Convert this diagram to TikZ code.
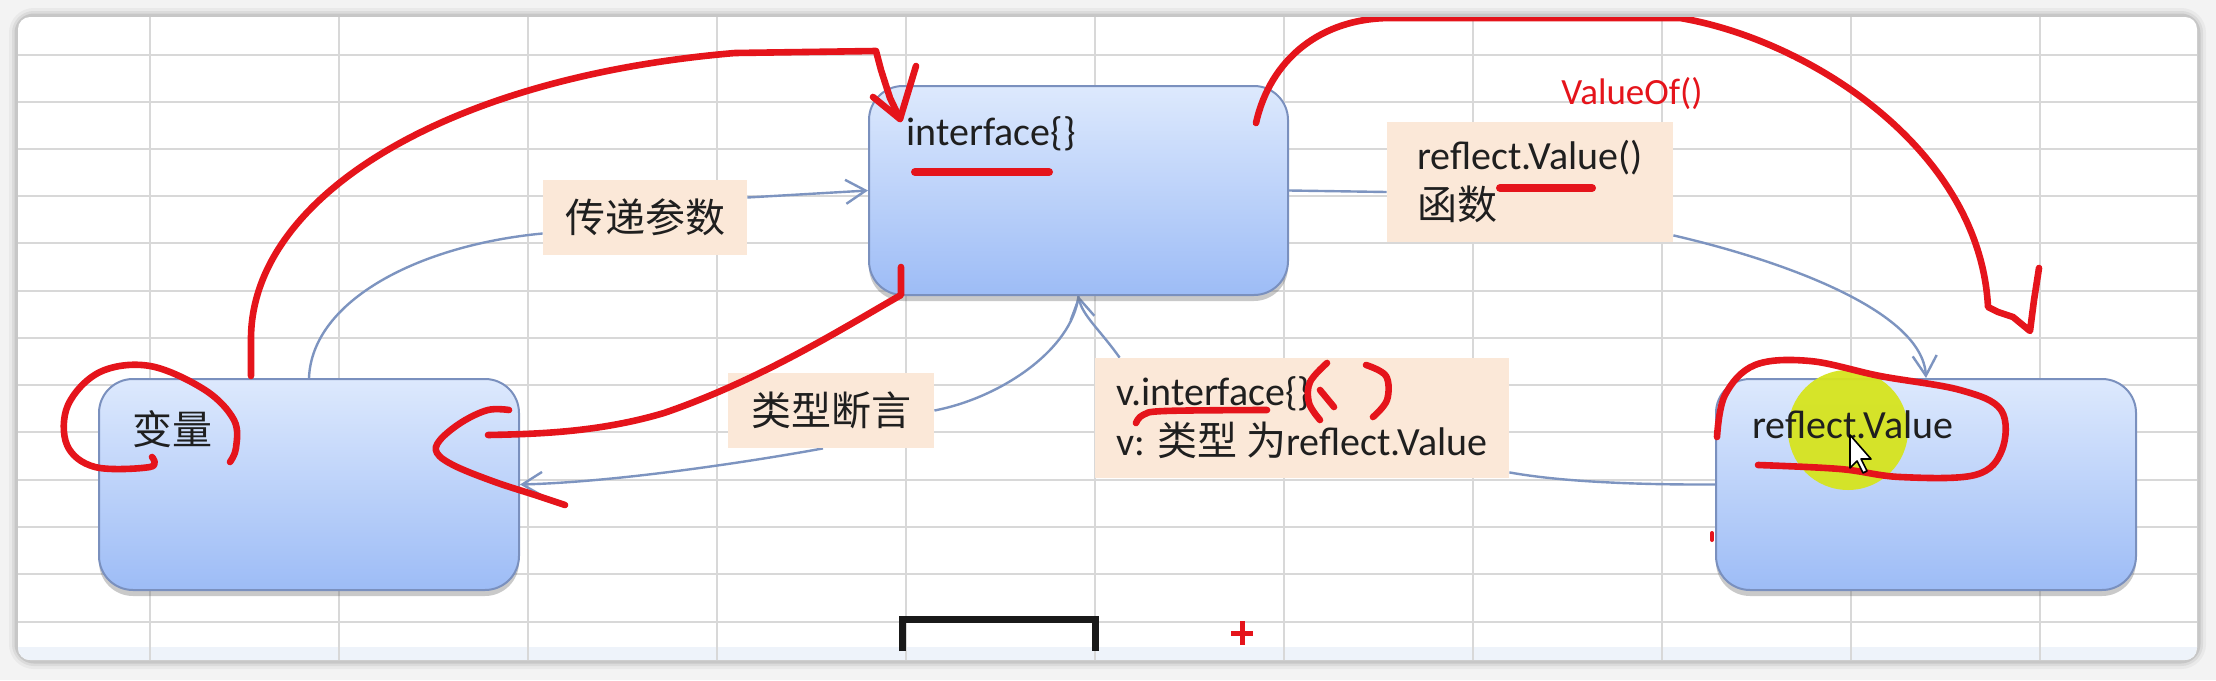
\documentclass[tikz,border=0pt]{standalone}
\usepackage{fontspec}
\setmainfont{Carlito}
\newfontfamily\cjk{Noto Sans CJK SC}
\usetikzlibrary{arrows.meta,shadows,calc}
\definecolor{bgout}{HTML}{F3F3F3}
\definecolor{gridc}{HTML}{D8D8D8}
\definecolor{boxtop}{HTML}{DDE9FD}
\definecolor{boxbot}{HTML}{9DBCF6}
\definecolor{boxline}{HTML}{7A90BE}
\definecolor{connc}{HTML}{7D94C0}
\definecolor{peach}{HTML}{FBE8D8}
\definecolor{inkred}{HTML}{E5141B}
\definecolor{hlyellow}{HTML}{D6E41E}
\definecolor{txt}{HTML}{1F1F1F}
\definecolor{bandc}{HTML}{EEF3FA}
\pgfdeclarelayer{back}
\pgfdeclarelayer{edges}
\pgfsetlayers{back,edges,main}
\tikzset{
  box/.style={draw=boxline, line width=1pt, rounded corners=17pt, top color=boxtop, bottom color=boxbot,
    drop shadow={shadow xshift=0pt, shadow yshift=-3pt, opacity=0.35, fill=black!60}, inner sep=0pt},
  lab/.style={fill=peach, inner sep=0pt, font=\fontsize{20}{25}\selectfont, text=txt, align=left},
  conn/.style={draw=connc, line width=1.2pt},
  tipped/.style={-{Straight Barb[length=10pt,width=12pt]}},
  ink/.style={draw=inkred, line width=3.3pt, line cap=round, line join=round},
  btext/.style={font=\fontsize{20}{24}\selectfont, text=txt, inner sep=0pt},
}
\begin{document}
\begin{tikzpicture}[x=0.5pt,y=-0.5pt]
\useasboundingbox (0,0) rectangle (2216,680);
\begin{pgfonlayer}{back}
  \fill[bgout] (0,0) rectangle (2216,680);
  \foreach \w/\o in {9/0.04,6/0.06,3.5/0.09}
    \draw[black, opacity=\o, line width=\w pt, rounded corners=8pt] (18,17) rectangle (2197,660);
  \fill[white, rounded corners=6pt] (18,17) rectangle (2197,660);
  \begin{scope}
    \clip[rounded corners=6pt] (18,17) rectangle (2197,660);
    \fill[bandc] (18,647) rectangle (2197,660);
    \foreach \x in {150,339,528,717,906,1095,1284,1473,1662,1851,2040}
      \draw[gridc, line width=1.3pt] (\x,17) -- (\x,660);
    \foreach \y in {55,102,149,196,243,291,338,385,432,480,527,574,622}
      \draw[gridc, line width=1.3pt] (18,\y) -- (2197,\y);
  \end{scope}
\end{pgfonlayer}

% boxes
\node[box, minimum width=209.5pt, minimum height=104.5pt] (iface) at (1078.5,190.5) {};
\node[box, minimum width=210pt, minimum height=105.5pt] (var) at (309,484.5) {};
\node[box, minimum width=210pt, minimum height=105.5pt] (rv) at (1926,484.5) {};

% labels
\node[lab, minimum width=102pt, minimum height=37.5pt] (l1) at (645,217.5) {\cjk 传递参数};
\node[lab, minimum width=103pt, minimum height=37.5pt] (l2) at (831,410.5) {\cjk 类型断言};
\node[lab, minimum width=143pt, minimum height=60pt] (l3) at (1530,182) {reflect.Value()\\{\cjk 函数}};
\node[lab, minimum width=207pt, minimum height=60pt] (l4) at (1302,418) {v.interface\{\}\\v: {\cjk 类型} {\cjk 为}reflect.Value};

% connectors
\begin{pgfonlayer}{edges}
  \draw[conn] (var.north) .. controls (312,300) and (420,245) .. ([yshift=-8pt]l1.west);
  \draw[conn, tipped] ([yshift=10pt]l1.east) -- (iface.west);
  \draw[conn] (iface.south) .. controls (1072,350) and (1000,398) .. (l2.east);
  \draw[conn, tipped] ([xshift=-4pt]l2.south) .. controls (760,460) and (620,482) .. (var.east);
  \draw[conn] (iface.east) -- ([yshift=-5pt]l3.west);
  \draw[conn, tipped] ([yshift=3.5pt]l3.south east) .. controls (1780,260) and (1922,310) .. (rv.north);
  \draw[conn] (rv.west) .. controls (1600,485) and (1540,478) .. ([yshift=3pt]l4.south east);
  \draw[conn, tipped] ([xshift=12.5pt]l4.north west) .. controls (1100,330) and (1082,315) .. (iface.south);
\end{pgfonlayer}

% box texts
\node[btext, anchor=base west] (tif) at (906,145) {interface\{\}};
\node[btext, anchor=base west] (tvar) at (132,444) {\cjk 变量};
\fill[hlyellow, opacity=0.95] (1848,430) circle[radius=30pt];
\node[btext, anchor=base west] (trv) at (1752,438) {reflect.Value};

% red annotation
\node[font=\fontsize{18.5}{20}\selectfont, text=inkred, inner sep=0pt] (vof) at (1632,94) {ValueOf()};
\begin{scope}
  \clip (18,17) rectangle (2197,660);
  % arc from variable box to interface box
  \draw[ink] (251,376) -- (251,340) .. controls (250,200) and (440,78) .. (735,53) -- (876,51) -- (881,70) -- (890,98) -- (900,119);
  \draw[ink] (873,97) -- (900,119) -- (916,66);
  % arc from interface box to reflect.Value box
  \draw[ink] (1256,123) .. controls (1270,60) and (1320,18) .. (1391,18) -- (1680,18) .. controls (1810,40) and (1980,150) .. (1988,307)
     -- (1998,312) -- (2013,317) -- (2030,331) -- (2034,300) -- (2039,268);
  \draw[ink, line width=4pt] (915,172) -- (1049,172);
  \draw[ink] (901,267) -- (901,295) .. controls (840,330) and (760,380) .. (664,413) .. controls (600,432) and (540,434) .. (488,435);
  \draw[ink] plot[smooth, tension=0.6] coordinates {(509,410) (488,410) (462,422) (440,440) (437,453) (455,466) (495,482) (535,495) (565,505)};
  \draw[ink] plot[smooth, tension=0.6] coordinates {(152,457) (150,467) (95,467) (67,445) (68,405) (100,372) (150,366) (205,390) (234,420) (236,448) (230,462)};
  \draw[ink] plot[smooth, tension=0.6] coordinates {(1758,465) (1840,469) (1900,477) (1975,475) (2002,450) (2001,410) (1960,390) (1880,376) (1810,361) (1755,365) (1725,395) (1717,437)};
  \draw[ink] plot[smooth, tension=0.6] coordinates {(1327,363) (1310,382) (1309,403) (1320,420)};
  \draw[ink] (1320,390) -- (1334,407);
  \draw[ink] plot[smooth, tension=0.6] coordinates {(1366,365) (1386,376) (1387,400) (1373,417)};
  \draw[ink] plot[smooth, tension=0.6] coordinates {(1136,423) (1143,415) (1165,411) (1267,410)};
  \draw[ink, line width=4pt] (1500,188) -- (1592,188);
  \draw[ink, line width=2pt] (1712,533) -- (1712,540);
  \draw[inkred, line width=2.5pt] (1231,633) -- (1253,633) (1242,621) -- (1242,645);
  \draw[black!90, line width=3.5pt] (902,651) -- (902,619) -- (1095,619) -- (1095,651);
\end{scope}

% mouse pointer
\draw[black, fill=white, line width=0.8pt, line join=round] (1850,435) -- ++(0,33) -- ++(7,-7) -- ++(6,12) -- ++(4,-2) -- ++(-6,-12) -- ++(10,0) -- cycle;
\end{tikzpicture}
\end{document}
